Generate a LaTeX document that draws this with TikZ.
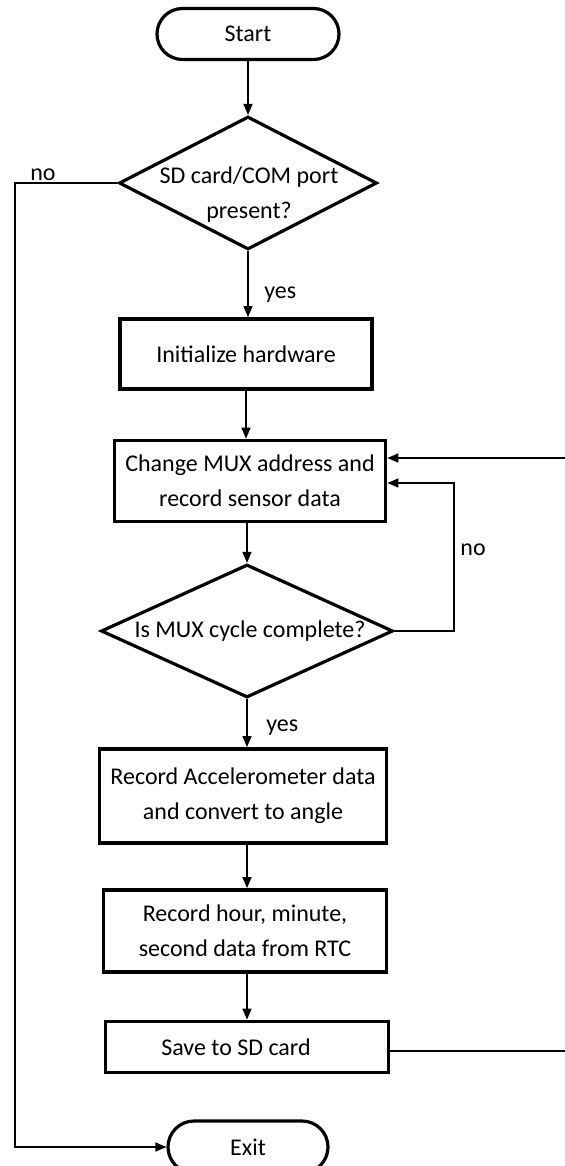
\documentclass[tikz,border=0pt]{standalone}
\usepackage{fontspec}
\setmainfont{Carlito}
\usetikzlibrary{shapes.geometric,shapes.misc,arrows.meta}

\tikzset{
	term/.style={draw, rounded rectangle, line width=1.6pt, minimum width=80pt, minimum height=26pt, inner sep=0pt},
	decision/.style={draw, diamond, line width=1.6pt, inner sep=0pt},
	process/.style={draw, rectangle, line width=1.9pt, inner sep=0pt, align=center},
	arr/.style={line width=0.75pt, -{Triangle[length=5.5pt,width=4.5pt]}},
	branch/.style={inner sep=0pt, anchor=base west},
}

\begin{document}
\begin{tikzpicture}[x=0.5pt, y=-0.5pt, font=\fontsize{12}{17.5}\selectfont]
		\useasboundingbox (0,0) rectangle (565,1166);
		
		\node[term, minimum width=91pt, minimum height=25.5pt] (start) at (248,34) {Start};
		\node[decision, minimum width=129pt, minimum height=66.5pt] (sd) at (248,183) {};
		\node[align=center] (sdtext) at (249,195) {SD card/COM port\\present?};
		\node[process, minimum width=126pt, minimum height=35pt] (init) at (246,354) {Initialize hardware};
		\node[process, minimum width=135.5pt, minimum height=40.5pt] (mux) at (250,481) {Change MUX address and\\record sensor data};
		\node[decision, minimum width=146pt, minimum height=66.5pt] (cyc) at (247,631) {};
		\node (cyctext) at (250,631) {Is MUX cycle complete?};
		\node[process, minimum width=143.5pt, minimum height=47pt] (acc) at (243,796) {Record Accelerometer data\\and convert to angle};
		\node[process, minimum width=141.5pt, minimum height=41pt] (rtc) at (245,931) {Record hour, minute,\\second data from RTC};
		\node[process, minimum width=141.5pt, minimum height=25.5pt] (save) at (247,1047) {Save to SD card\hspace*{11pt}};
		\node[term] (exit) at (248,1147) {Exit};
		
		\coordinate (exitturn) at (15,183);
		\coordinate (noturn) at (454,483);
		\coordinate (backturn) at (580,458);
		
		\draw[arr] (start.south) -- (start.south |- sd.north);
		\draw[arr] (sd.south) -- (sd.south |- init.north);
		\draw[arr] (init.south) -- (init.south |- mux.north);
		\draw[arr] (mux.south -| cyc.north) -- (cyc.north);
		\draw[arr] (cyc.south) -- (cyc.south |- acc.north);
		\draw[arr] (acc.south -| cyc.south) -- (cyc.south |- rtc.north);
		\draw[arr] (rtc.south -| cyc.south) -- (cyc.south |- save.north);
		
		\draw[arr] (sd.west) -- (exitturn) |- (exit.west);
		\draw[arr] (cyc.east) -| (noturn) -- (noturn -| mux.east);
		\draw[arr] ([yshift=-2pt]save.east) -| (backturn) -- (backturn -| mux.east);
		
		\node[branch] (sdno) at (30,181) {no};
		\node[branch] (sdyes) at (264,298) {yes};
		\node[branch] (cycno) at (460,555) {no};
		\node[branch] (cycyes) at (266,731) {yes};
		
	\end{tikzpicture}
\end{document}
